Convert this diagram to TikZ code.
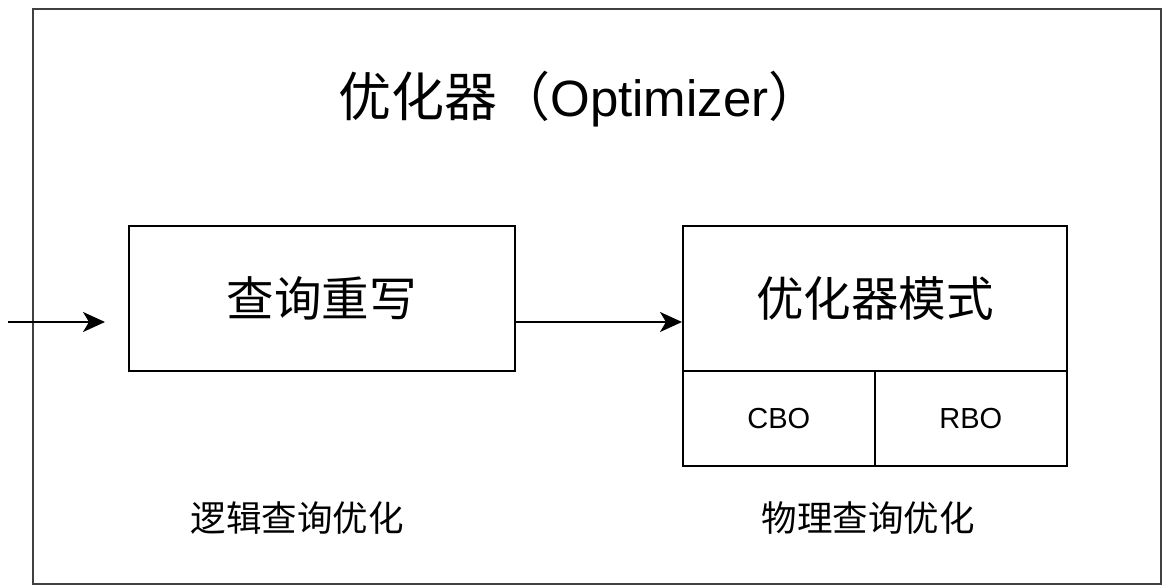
\documentclass[tikz,border=0pt]{standalone}
\usepackage{fontspec}
\setmainfont{Liberation Sans}
\newfontfamily\cjk{Noto Sans CJK SC}
\usetikzlibrary{arrows.meta}
\begin{document}
\begin{tikzpicture}[x=1pt,y=-1pt,
  box/.style={draw=black,line width=1.6pt,inner sep=0pt,anchor=north west},
  arr/.style={line width=1.8pt,-{Stealth[length=22pt,width=20pt,inset=6pt]}},
  big/.style={font=\cjk\fontsize{47.5}{52}\selectfont},
  lab/.style={font=\cjk\fontsize{35.5}{40}\selectfont},
  small/.style={font=\fontsize{29}{33}\selectfont}]
\useasboundingbox (0,0) rectangle (1163,585);
\fill[white] (0,0) rectangle (1163,585);
\draw[draw=black!75,line width=2.4pt] (33,9) rectangle (1161,584);
\node (title) at (580,99) {{\cjk\fontsize{53}{58}\selectfont 优化器（}{\fontsize{51}{56}\selectfont Optimizer}{\cjk\fontsize{53}{58}\selectfont ）}};
\node[box,minimum width=386pt,minimum height=145pt] (qw) at (128,225) {};
\node[big] at (qw.center) {查询重写};
\node[box,minimum width=384pt,minimum height=145pt] (om) at (682,225) {};
\node[big] at (om.center) {优化器模式};
\node[box,minimum width=192pt,minimum height=95pt] (cbo) at (682,370) {};
\node[small] at (cbo.center) {CBO};
\node[box,minimum width=192pt,minimum height=95pt] (rbo) at (874,370) {};
\node[small] at (rbo.center) {RBO};
\node[lab] (lq) at (297,518) {逻辑查询优化};
\node[lab] (pq) at (868,518) {物理查询优化};
\coordinate (in) at (8,322);
\draw[arr,shorten >=23pt] (in) -- (qw.west |- in);
\draw[arr] (qw.east |- in) -- (om.west |- in);
\end{tikzpicture}
\end{document}
